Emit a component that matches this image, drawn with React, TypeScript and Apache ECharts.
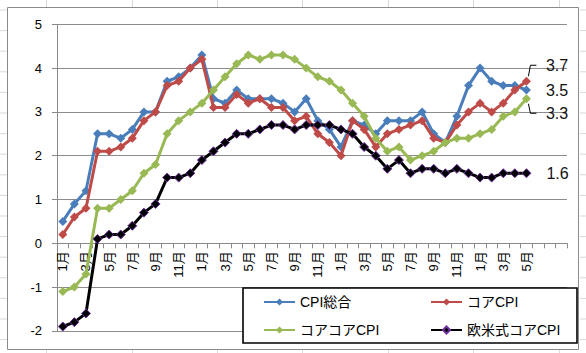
import React, { useEffect, useRef } from "react";
import * as echarts from "echarts";

// 44 monthly categories (Jan year1 .. Aug year4); last three are empty slots on the axis
const monthLabels: string[] = [
  "1月", "2月", "3月", "4月", "5月", "6月", "7月", "8月", "9月", "10月", "11月", "12月",
  "1月", "2月", "3月", "4月", "5月", "6月", "7月", "8月", "9月", "10月", "11月", "12月",
  "1月", "2月", "3月", "4月", "5月", "6月", "7月", "8月", "9月", "10月", "11月", "12月",
  "1月", "2月", "3月", "4月", "5月", "", "", "",
];

const cpiTotal = [
  0.5, 0.9, 1.2, 2.5, 2.5, 2.4, 2.6, 3.0, 3.0, 3.7, 3.8, 4.0,
  4.3, 3.3, 3.2, 3.5, 3.3, 3.3, 3.3, 3.2, 3.0, 3.3, 2.8, 2.6,
  2.2, 2.8, 2.7, 2.5, 2.8, 2.8, 2.8, 3.0, 2.5, 2.3, 2.9, 3.6,
  4.0, 3.7, 3.6, 3.6, 3.5,
];

const coreCpi = [
  0.2, 0.6, 0.8, 2.1, 2.1, 2.2, 2.4, 2.8, 3.0, 3.6, 3.7, 4.0,
  4.2, 3.1, 3.1, 3.4, 3.2, 3.3, 3.1, 3.1, 2.8, 2.9, 2.5, 2.3,
  2.0, 2.8, 2.6, 2.2, 2.5, 2.6, 2.7, 2.8, 2.4, 2.3, 2.7, 3.0,
  3.2, 3.0, 3.2, 3.5, 3.7,
];

const coreCoreCpi = [
  -1.1, -1.0, -0.7, 0.8, 0.8, 1.0, 1.2, 1.6, 1.8, 2.5, 2.8, 3.0,
  3.2, 3.5, 3.8, 4.1, 4.3, 4.2, 4.3, 4.3, 4.2, 4.0, 3.8, 3.7,
  3.5, 3.2, 2.9, 2.4, 2.1, 2.2, 1.9, 2.0, 2.1, 2.3, 2.4, 2.4,
  2.5, 2.6, 2.9, 3.0, 3.3,
];

const westernCoreCpi = [
  -1.9, -1.8, -1.6, 0.1, 0.2, 0.2, 0.4, 0.7, 0.9, 1.5, 1.5, 1.6,
  1.9, 2.1, 2.3, 2.5, 2.5, 2.6, 2.7, 2.7, 2.6, 2.7, 2.7, 2.7,
  2.6, 2.5, 2.2, 2.0, 1.7, 1.9, 1.6, 1.7, 1.7, 1.6, 1.7, 1.6,
  1.5, 1.5, 1.6, 1.6, 1.6,
];

const seriesNames = ["CPI総合", "コアCPI", "コアコアCPI", "欧米式コアCPI"];

const yMin = -2;
const yMax = 5;
const yInterval = 1;

const LATIN = "'Liberation Sans', 'Noto Sans CJK JP', sans-serif";
const CJK = "'Liberation Sans', 'Noto Sans CJK JP', sans-serif";

const W = 586;
const H = 353;
const GRID_TOP = 24.3;
const GRID_BOTTOM = 22.1;

export default function App() {
  const ref = useRef<HTMLDivElement>(null);

  useEffect(() => {
    if (!ref.current) return;
    const chart = echarts.init(ref.current, null, { renderer: "svg" });

    const colors = ["#4A7EBB", "#BE4B48", "#98B954", "#000000"];
    const datasets = [cpiTotal, coreCpi, coreCoreCpi, westernCoreCpi];
    const labelOffsets: [number, number][] = [
      [10, 0],
      [10, -16],
      [10, 14.5],
      [10, 0],
    ];

    const series = datasets.map((d, si) => {
      const last = d.length - 1;
      return {
        name: seriesNames[si],
        type: "line",
        data: d.map((v, i) =>
          i === last
            ? {
                value: v,
                label: {
                  show: true,
                  position: "right",
                  distance: 5,
                  offset: labelOffsets[si],
                  formatter: () => v.toFixed(1),
                  fontFamily: LATIN,
                  fontSize: 16,
                  color: "#111",
                },
              }
            : v
        ),
        symbol: "diamond",
        symbolSize: 9,
        showAllSymbol: true,
        lineStyle: { color: colors[si], width: 3 },
        itemStyle:
          si === 3
            ? { color: "#000", borderColor: "#7030A0", borderWidth: 1 }
            : { color: colors[si], borderColor: colors[si], borderWidth: 0 },
        emphasis: { disabled: true },
        z: 2 + si,
      };
    });

    const legendPos = [
      { left: 263, top: 294 },
      { left: 430, top: 294 },
      { left: 263, top: 322 },
      { left: 430, top: 322 },
    ];

    // move the category axis up to the y = 0 line
    const gridH = H - GRID_TOP - GRID_BOTTOM;
    const zeroOffset = -gridH * ((0 - yMin) / (yMax - yMin));

    const option: any = {
      animation: false,
      backgroundColor: "#ffffff",
      color: colors,
      grid: {
        left: 57,
        right: 19,
        top: GRID_TOP,
        bottom: GRID_BOTTOM,
        containLabel: false,
        outerBoundsMode: "none",
      },
      xAxis: {
        type: "category",
        data: monthLabels,
        boundaryGap: true,
        position: "bottom",
        offset: zeroOffset,
        axisLine: { show: true, onZero: false, lineStyle: { color: "#898989", width: 1 } },
        axisTick: { show: true, interval: 0, length: 5, inside: false, lineStyle: { color: "#898989" } },
        axisLabel: {
          interval: 1,
          rotate: 90,
          margin: 8,
          fontFamily: CJK,
          fontSize: 13,
          color: "#000",
        },
        splitLine: { show: false },
      },
      yAxis: {
        type: "value",
        min: yMin,
        max: yMax,
        interval: yInterval,
        axisLine: { show: true, onZero: false, lineStyle: { color: "#898989", width: 1 } },
        axisTick: { show: true, length: 5, lineStyle: { color: "#898989" } },
        axisLabel: { margin: 15, fontFamily: LATIN, fontSize: 13, color: "#000" },
        splitLine: { show: true, lineStyle: { color: "#8c8c8c", width: 1 } },
      },
      legend: seriesNames.map((n, i) => ({
        data: [n],
        left: legendPos[i].left,
        top: legendPos[i].top,
        orient: "horizontal",
        padding: 0,
        itemWidth: 31,
        itemHeight: 9,
        itemGap: 0,
        z: 20,
        selectedMode: false,
        textStyle: { fontFamily: CJK, fontSize: 14, color: "#000", lineHeight: 16 },
      })),
      series,
    };

    chart.setOption(option);

    const last = cpiTotal.length - 1;
    const pRed = chart.convertToPixel({ seriesIndex: 1 }, [last, coreCpi[last]]) as number[];
    const pGreen = chart.convertToPixel({ seriesIndex: 2 }, [last, coreCoreCpi[last]]) as number[];

    const sheetV = [46, 132, 217, 302, 388, 473, 559];
    const sheetH: number[] = [];
    for (let k = 0; k < 18; k++) sheetH.push(10 + k * 20.6);

    const elements: any[] = [];
    sheetV.forEach((x, k) => {
      elements.push({
        type: "line",
        id: "sv_top_" + k,
        shape: { x1: x + 0.5, y1: 0, x2: x + 0.5, y2: 7 },
        style: { stroke: "#d9d9d9", lineWidth: 1 },
        z: 0,
      });
      elements.push({
        type: "line",
        id: "sv_bot_" + k,
        shape: { x1: x + 0.5, y1: 350, x2: x + 0.5, y2: 353 },
        style: { stroke: "#d9d9d9", lineWidth: 1 },
        z: 0,
      });
    });
    sheetH.forEach((y, k) => {
      elements.push({
        type: "line",
        id: "sh_l_" + k,
        shape: { x1: 0, y1: y, x2: 7, y2: y },
        style: { stroke: "#d9d9d9", lineWidth: 1 },
        z: 0,
      });
      elements.push({
        type: "line",
        id: "sh_r_" + k,
        shape: { x1: 580, y1: y, x2: 586, y2: y },
        style: { stroke: "#d9d9d9", lineWidth: 1 },
        z: 0,
      });
    });
    elements.push({
      type: "rect",
      id: "frame",
      shape: { x: 7.5, y: 7.5, width: 571, height: 342 },
      style: { fill: "none", stroke: "#8a8a8a", lineWidth: 1 },
      z: 0,
    });
    elements.push({
      type: "rect",
      id: "legendBox",
      shape: { x: 243, y: 288, width: 334, height: 55 },
      style: { fill: "#ffffff", stroke: "#000000", lineWidth: 1.6 },
      z: 10,
    });
    // leader lines for the data labels of コアCPI and コアコアCPI
    elements.push({
      type: "polyline",
      id: "leaderRed",
      shape: {
        points: [
          [pRed[0] + 2, pRed[1] - 5],
          [pRed[0] + 4, pRed[1] - 16],
          [pRed[0] + 10, pRed[1] - 16],
        ],
      },
      style: { stroke: "#000", lineWidth: 1, fill: "none" },
      z: 10,
    });
    elements.push({
      type: "polyline",
      id: "leaderGreen",
      shape: {
        points: [
          [pGreen[0] + 2, pGreen[1] + 5],
          [pGreen[0] + 4, pGreen[1] + 14.5],
          [pGreen[0] + 10, pGreen[1] + 14.5],
        ],
      },
      style: { stroke: "#000", lineWidth: 1, fill: "none" },
      z: 10,
    });

    chart.setOption({ graphic: { elements } });

    return () => {
      chart.dispose();
    };
  }, []);

  return (
    <div
      ref={ref}
      style={{ position: "fixed", left: 0, top: 0, width: W, height: H, background: "#fff" }}
    />
  );
}
